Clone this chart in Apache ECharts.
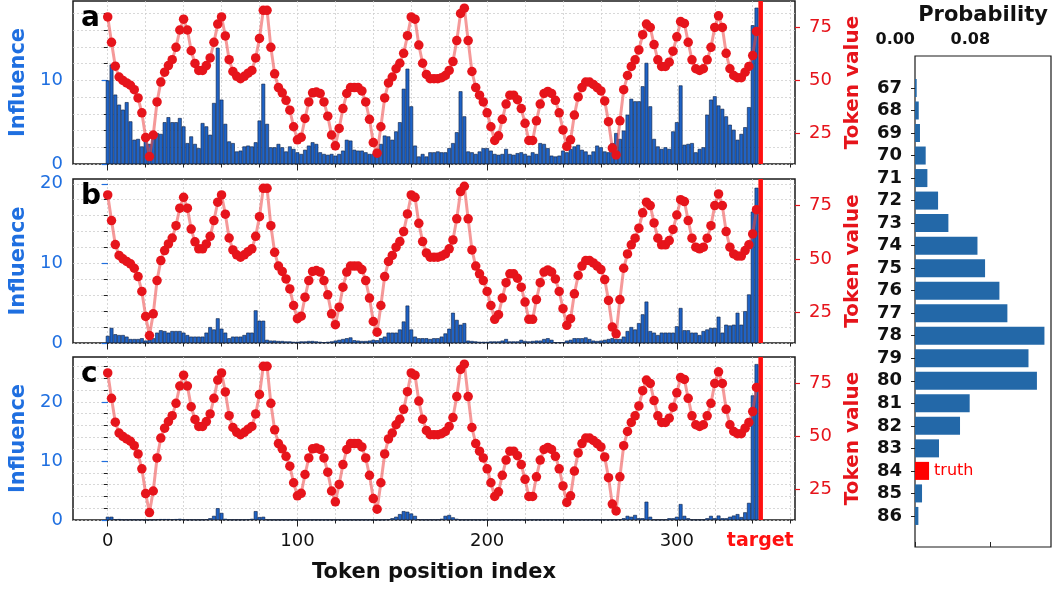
<!DOCTYPE html>
<html>
<head>
<meta charset="utf-8">
<script src="https://cdn.jsdelivr.net/npm/echarts@6.0.0/dist/echarts.min.js"></script>
<style>
html, body { margin: 0; padding: 0; background: #fff; }
#chart { width: 1055px; height: 590px; }
</style>
</head>
<body>
<div id="chart"></div>
<script>
// one value per number token, tokens sit at positions 0, 2, 4, ...
const tokenValues = [
    80, 68, 56.7, 51.6, 50, 48.8, 47.7, 45.6, 41.7, 34.7,
    23, 14, 24.2, 39.8, 49.2, 53.9, 57, 59.8, 65.6, 73.8,
    78.9, 73.8, 64, 58, 54.7, 54.7, 57, 60.6, 68, 76.6,
    80, 71, 59.8, 54.2, 51.9, 50.8, 51.9, 53.4, 54.7, 60.6,
    69.8, 83.1, 83.1, 65.6, 53.1, 46.6, 44.1, 40.6, 35.9, 28.1,
    21.9, 23.1, 32, 39.8, 44.1, 44.5, 43.8, 39.8, 33.1, 24.2,
    19.1, 27.3, 36.7, 43.8, 46.6, 46.6, 46.6, 45, 39.8, 31.6,
    20.6, 15.6, 28.1, 41.7, 48.8, 51.6, 55.5, 58.1, 62.8, 71.1,
    80, 78.9, 66.7, 58.1, 52.8, 50.8, 50.8, 50.8, 51.3, 52.3,
    54.7, 58.9, 68.8, 81.6, 84.1, 68.8, 54.2, 46.6, 43, 39.8,
    34.7, 28.1, 21.6, 23.8, 31.6, 38.8, 43, 43, 40.9, 36.7,
    29.7, 21.6, 21.6, 30.9, 38.8, 43.8, 44.8, 43.8, 40.6, 34.7,
    26.6, 18.8, 21.9, 33.6, 42.2, 46.6, 49.2, 49.2, 48.1, 46.6,
    45, 40.3, 30.5, 18, 14.8, 30.9, 45.6, 52.3, 56.6, 59.7,
    64.4, 71.6, 76.6, 75, 66.9, 59.7, 56.6, 56.6, 58.6, 63.8,
    70.6, 77.8, 76.9, 68, 59.7, 55.5, 54.7, 55.5, 59.7, 65.6,
    75, 80.5, 75, 62.8, 55.5, 52.3, 51.3, 51.3, 53.9, 56.6,
    61.7, 73.1
];

const influenceA = [
    10, 11.9, 8.3, 7.1, 6.5, 7.4, 5.1, 2.9, 3.0, 2.1,
    3.3, 2.4, 3.2, 3.7, 3.6, 5.0, 5.6, 5.0, 5.0, 5.5,
    4.5, 2.5, 3.3, 2.4, 1.9, 4.9, 4.5, 3.5, 7.3, 13.9,
    7.7, 4.8, 2.7, 2.5, 1.5, 1.6, 2.1, 2.2, 2.1, 2.6,
    5.2, 9.6, 4.8, 2.0, 2.0, 2.4, 2.0, 1.5, 2.1, 1.8,
    1.4, 1.2, 1.7, 2.2, 2.6, 2.4, 1.4, 1.2, 1.1, 1.2,
    1.0, 1.2, 1.6, 2.9, 2.8, 1.7, 1.6, 1.6, 1.4, 1.2,
    1.2, 1.8, 2.4, 3.4, 3.3, 2.9, 3.9, 5.0, 9.0, 11.4,
    6.9, 2.2, 0.9, 1.2, 0.9, 1.4, 1.4, 1.5, 1.4, 1.4,
    1.9, 2.5, 3.8, 8.7, 5.7, 1.5, 1.4, 1.2, 1.5, 1.9,
    1.9, 1.6, 1.2, 1.1, 1.2, 1.8, 1.2, 1.1, 1.3, 1.4,
    1.2, 1.0, 1.4, 1.2, 2.5, 2.4, 1.9, 1.0, 0.9, 1.0,
    1.6, 1.4, 1.8, 2.1, 2.3, 1.7, 1.5, 1.1, 1.5, 2.2,
    2.0, 1.5, 1.4, 2.5, 3.7, 3.0, 4.0, 5.9, 7.8, 7.5,
    7.5, 9.3, 12.1, 6.9, 3.0, 2.1, 1.8, 2.0, 1.8, 3.9,
    5.0, 9.4, 2.3, 2.4, 2.5, 1.4, 1.8, 2.0, 5.9, 7.7,
    8.1, 7.0, 6.6, 5.7, 4.7, 4.1, 2.9, 3.6, 4.4, 6.8,
    16.6, 18.7
];

const influenceB = [
    0.9, 1.9, 1.1, 1.0, 1.0, 0.8, 0.5, 0.5, 0.5, 0.6,
    0.3, 0.4, 0.6, 1.3, 1.6, 1.5, 1.3, 1.5, 1.5, 1.5,
    1.3, 1.0, 0.8, 0.8, 0.8, 0.8, 1.3, 2.0, 1.7, 3.1,
    1.8, 1.3, 0.6, 0.8, 0.8, 0.8, 1.0, 1.3, 1.3, 4.1,
    2.8, 2.8, 0.4, 0.3, 0.3, 0.25, 0.25, 0.2, 0.2, 0.15,
    0.15, 0.2, 0.2, 0.25, 0.25, 0.2, 0.15, 0.1, 0.15, 0.2,
    0.3, 0.4, 0.5, 0.6, 0.7, 0.35, 0.3, 0.25, 0.25, 0.3,
    0.4, 0.35, 0.6, 0.8, 1.3, 1.3, 1.3, 1.7, 2.7, 4.7,
    1.7, 0.8, 0.6, 0.6, 0.6, 0.5, 0.6, 0.6, 0.8, 1.2,
    1.8, 3.8, 2.9, 2.3, 2.5, 0.3, 0.25, 0.2, 0.15, 0.15,
    0.15, 0.2, 0.2, 0.2, 0.3, 0.5, 0.2, 0.2, 0.2, 0.4,
    0.25, 0.2, 0.25, 0.3, 0.3, 0.5, 0.6, 0.4, 0.1, 0.1,
    0.1, 0.3, 0.4, 0.6, 0.6, 0.6, 0.7, 0.5, 0.3, 0.25,
    0.3, 0.4, 0.5, 0.6, 0.5, 0.5, 0.8, 1.5, 2.0, 1.7,
    2.5, 3.6, 5.2, 1.5, 1.3, 1.0, 1.3, 1.3, 1.3, 1.3,
    2.1, 4.4, 1.6, 1.6, 1.3, 1.3, 1.0, 1.5, 1.7, 1.9,
    1.9, 3.3, 1.3, 2.3, 2.2, 2.3, 3.8, 2.3, 4.0, 6.1,
    16.5, 19.5
];

const influenceC = [
    0.55, 0.55, 0.1, 0.15, 0.05, 0.05, 0.05, 0.05, 0.05, 0.05,
    0.03, 0.03, 0.05, 0.1, 0.15, 0.15, 0.15, 0.1, 0.15, 0.2,
    0.1, 0.05, 0.05, 0.05, 0.05, 0.05, 0.1, 0.3, 0.7, 2.0,
    1.2, 0.2, 0.05, 0.05, 0.05, 0.05, 0.05, 0.1, 0.2, 1.5,
    0.5, 0.55, 0.05, 0.03, 0.03, 0.03, 0.03, 0.03, 0.03, 0.03,
    0.03, 0.03, 0.03, 0.03, 0.03, 0.03, 0.03, 0.03, 0.03, 0.03,
    0.03, 0.03, 0.03, 0.03, 0.03, 0.03, 0.03, 0.03, 0.03, 0.03,
    0.03, 0.03, 0.03, 0.05, 0.1, 0.3, 0.55, 1.0, 1.5, 1.4,
    1.1, 0.7, 0.1, 0.05, 0.05, 0.05, 0.05, 0.05, 0.2, 0.7,
    0.85, 0.45, 0.2, 0.03, 0.03, 0.03, 0.03, 0.03, 0.03, 0.03,
    0.03, 0.03, 0.03, 0.03, 0.03, 0.03, 0.03, 0.03, 0.03, 0.03,
    0.03, 0.03, 0.03, 0.03, 0.03, 0.03, 0.03, 0.03, 0.03, 0.03,
    0.03, 0.03, 0.03, 0.03, 0.03, 0.03, 0.03, 0.03, 0.03, 0.03,
    0.03, 0.03, 0.03, 0.03, 0.05, 0.1, 0.3, 0.7, 0.55, 0.85,
    0.3, 0.3, 3.1, 0.55, 0.05, 0.05, 0.05, 0.05, 0.3, 0.3,
    0.55, 2.7, 0.7, 0.3, 0.05, 0.05, 0.05, 0.05, 0.3, 0.7,
    0.3, 0.75, 0.3, 0.3, 0.55, 0.75, 1.0, 0.5, 1.3, 2.9,
    21.1, 26.4
];

const targetPos = 344;
const xTickMinor = [0, 20, 40, 60, 80, 100, 120, 140, 160, 180, 200, 220, 240, 260, 280, 300, 320, 340, 360];
const xTickMajor = [0, 100, 200, 300];
const xTickLabels = [0, 100, 200, 300, targetPos];
const tokenTicks = [25, 50, 75];
const inflTicksA = [0, 2, 4, 6, 8, 10, 12, 14, 16, 18];
const inflTicksB = [0, 2, 4, 6, 8, 10, 12, 14, 16, 18, 20];
const inflTicksC = [0, 2, 4, 6, 8, 10, 12, 14, 16, 18, 20, 22, 24, 26];
const inflLabelsA = [0, 10];
const inflLabelsB = [0, 10, 20];
const inflLabelsC = [0, 10, 20];

const probLabels = ['67', '68', '69', '70', '71', '72', '73', '74', '75', '76',
    '77', '78', '79', '80', '81', '82', '83', '84', '85', '86'];
const probValues = [0.0018, 0.004, 0.0053, 0.0114, 0.0132, 0.0246, 0.0356, 0.0666, 0.0747, 0.090,
    0.0985, 0.138, 0.121, 0.130, 0.0583, 0.048, 0.0256, 0.015, 0.0075, 0.0036];
const truthLabel = '84';
const probTicks = [0, 0.08];

const FONT = 'DejaVu Sans';
const BLUE = '#1f6fe0';
const BAR_BLUE = '#1f63c6';
const PROB_BLUE = '#2368a8';
const RED = '#e6141b';
const INK = '#111';
const gridLine = { color: '#cfcfcf', type: [2, 2], width: 0.8 };

const panels = [
    { letter: 'a', top: 1, height: 163, max: 19.5, data: influenceA, ticks: inflTicksA, labels: inflLabelsA },
    { letter: 'b', top: 179, height: 164, max: 20.6, data: influenceB, ticks: inflTicksB, labels: inflLabelsB },
    { letter: 'c', top: 357, height: 163, max: 27.6, data: influenceC, ticks: inflTicksC, labels: inflLabelsC }
];

const grid = [];
const xAxis = [];
const yAxis = [];
const series = [];
const graphic = [];

panels.forEach(function (p, i) {
    const last = i === panels.length - 1;
    grid.push({ left: 73, top: p.top, width: 722, height: p.height, show: true,
        borderColor: '#1a1a1a', borderWidth: 1.5, outerBoundsMode: 'none' });

    // token position axis (minor ticks + vertical grid)
    xAxis.push({
        type: 'value', gridIndex: i, min: -18.3, max: 362.3, position: 'bottom',
        axisLine: { show: false },
        axisTick: { show: true, customValues: xTickMinor, length: 3.5, lineStyle: { color: '#222' } },
        axisLabel: last ? {
            customValues: xTickLabels, fontSize: 18, color: INK, fontFamily: FONT, margin: 12,
            formatter: function (v) { return v === targetPos ? '{t|target}' : String(v); },
            rich: { t: { color: '#ff1010', fontWeight: 'bold', fontSize: 19, fontFamily: FONT } }
        } : { show: false },
        splitLine: { show: true, lineStyle: gridLine },
        name: last ? 'Token position index' : '',
        nameLocation: 'middle', nameGap: 42,
        nameTextStyle: { fontSize: 21, fontWeight: 'bold', color: INK, fontFamily: FONT }
    });
    // major ticks
    xAxis.push({
        type: 'value', gridIndex: i, min: -18.3, max: 362.3, position: 'bottom',
        axisLine: { show: false },
        axisTick: { show: true, customValues: xTickMajor, length: 6.5, lineStyle: { color: '#222' } },
        axisLabel: { show: false }, splitLine: { show: false }
    });

    yAxis.push({
        type: 'value', gridIndex: i, min: 0, max: p.max, position: 'left',
        axisLine: { show: false },
        axisTick: { show: true, customValues: p.ticks, length: 4, lineStyle: { color: '#222' } },
        axisLabel: { customValues: p.labels, color: BLUE, fontSize: 18, fontFamily: FONT, margin: 10 },
        splitLine: { show: true, lineStyle: gridLine },
        name: 'Influence', nameLocation: 'middle', nameRotate: 90, nameGap: 44,
        nameTextStyle: { color: BLUE, fontWeight: 'bold', fontSize: 21, fontFamily: FONT }
    });
    yAxis.push({
        type: 'value', gridIndex: i, min: 0, max: p.max, position: 'left',
        axisLine: { show: false },
        axisTick: { show: true, customValues: p.labels, length: 6, lineStyle: { color: BLUE, width: 1.2 } },
        axisLabel: { show: false }, splitLine: { show: false }
    });
    yAxis.push({
        type: 'value', gridIndex: i, min: 10.5, max: 87.5, position: 'right',
        axisLine: { show: false },
        axisTick: { show: true, customValues: tokenTicks, length: 5, lineStyle: { color: RED, width: 1.2 } },
        axisLabel: { customValues: tokenTicks, color: RED, fontSize: 18, fontFamily: FONT, margin: 14 },
        splitLine: { show: false },
        name: 'Token value', nameLocation: 'middle', nameRotate: 90, nameGap: 44,
        nameTextStyle: { color: RED, fontWeight: 'bold', fontSize: 20, fontFamily: FONT }
    });

    series.push({
        type: 'bar', xAxisIndex: 2 * i, yAxisIndex: 3 * i,
        data: p.data.map(function (v, k) { return [k * 2, v]; }),
        barWidth: '100%',
        itemStyle: { color: BAR_BLUE, borderColor: '#0b1f40', borderWidth: 0.6 },
        markArea: {
            silent: true,
            itemStyle: { color: '#ff1010', opacity: 1 },
            data: [[{ xAxis: targetPos - 1 }, { xAxis: targetPos + 1.4 }]]
        },
        z: 2
    });
    series.push({
        type: 'line', xAxisIndex: 2 * i, yAxisIndex: 3 * i + 2,
        data: tokenValues.map(function (v, k) { return [k * 2, v]; }),
        symbol: 'circle', symbolSize: 9.5, showSymbol: true, showAllSymbol: true,
        itemStyle: { color: RED },
        lineStyle: { color: 'rgba(236, 70, 70, 0.55)', width: 3 },
        z: 3
    });

    graphic.push({
        type: 'text', left: 81, top: p.top + 4,
        style: { text: p.letter, font: 'bold 28px "DejaVu Sans"', fill: '#000' },
        z: 10
    });
});

// probability panel: frame grid + bar grid
grid.push({ left: 915, top: 56, width: 136, height: 491, show: true,
    borderColor: '#1a1a1a', borderWidth: 1.2, outerBoundsMode: 'none' });
grid.push({ left: 915, top: 76.7, width: 136, height: 450.5, outerBoundsMode: 'none' });

xAxis.push({
    type: 'value', gridIndex: 3, min: 0, max: 0.145, position: 'top',
    axisLine: { show: false },
    axisTick: { show: true, customValues: probTicks, length: 5, lineStyle: { color: '#222' } },
    axisLabel: { customValues: probTicks, fontSize: 16, fontWeight: 'bold', color: INK, fontFamily: FONT,
        margin: 8, align: 'right', formatter: function (v) { return v.toFixed(2); } },
    splitLine: { show: false },
    name: 'Probability', nameLocation: 'middle', nameGap: 30,
    nameTextStyle: { fontSize: 21, fontWeight: 'bold', color: INK, fontFamily: FONT }
});
xAxis.push({ type: 'value', gridIndex: 4, min: 0, max: 0.145, show: false });
yAxis.push({ type: 'value', gridIndex: 3, min: 0, max: 1, show: false });
yAxis.push({
    type: 'category', gridIndex: 4, data: probLabels, inverse: true,
    axisLine: { show: false },
    axisTick: { show: true, alignWithLabel: true, interval: 0, length: 4, lineStyle: { color: '#222' } },
    axisLabel: { interval: 0, fontSize: 18, fontWeight: 'bold', color: INK, fontFamily: FONT, margin: 13 },
    splitLine: { show: false }
});

series.push({
    type: 'bar', xAxisIndex: 7, yAxisIndex: 10, barWidth: '80%',
    itemStyle: { color: PROB_BLUE },
    data: probValues.map(function (v, j) {
        if (probLabels[j] !== truthLabel) return v;
        return {
            value: v,
            itemStyle: { color: '#ff0000' },
            label: { show: true, position: 'right', formatter: 'truth', color: '#ff0000',
                fontSize: 16, fontFamily: FONT, distance: 5 }
        };
    })
});

const chart = echarts.init(document.getElementById('chart'), null, { renderer: 'canvas' });
chart.setOption({
    animation: false,
    backgroundColor: '#fff',
    textStyle: { fontFamily: FONT },
    grid: grid,
    xAxis: xAxis,
    yAxis: yAxis,
    series: series,
    graphic: graphic
});
</script>
</body>
</html>
